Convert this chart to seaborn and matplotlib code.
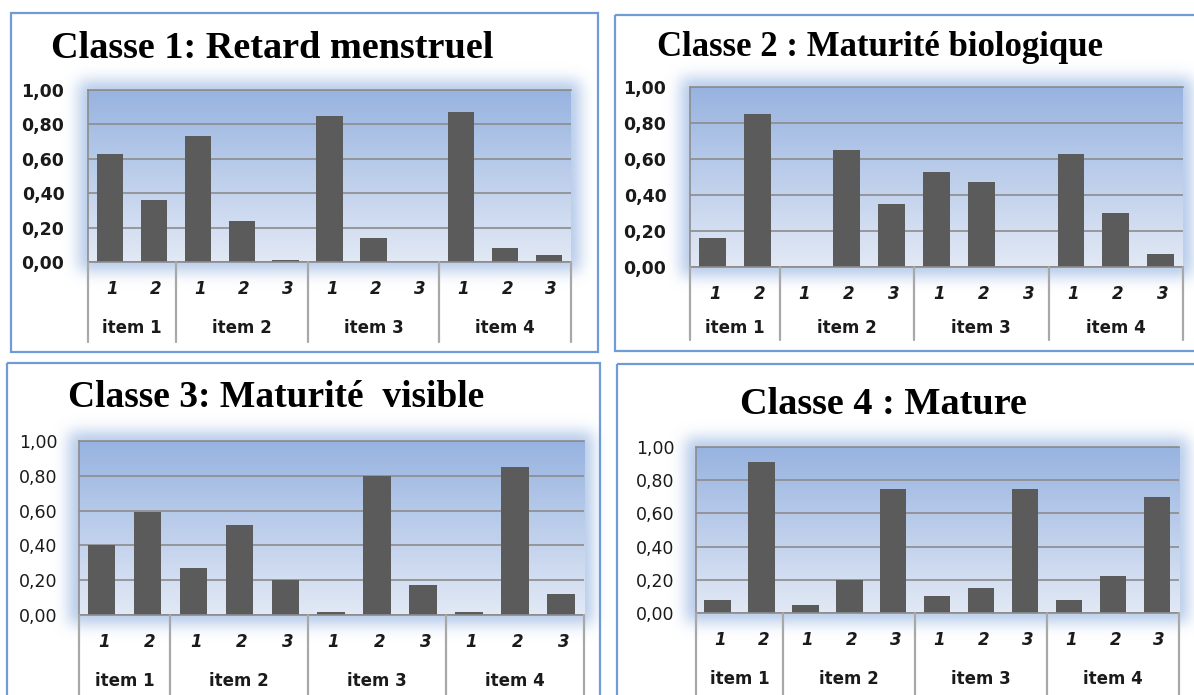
import numpy as np
import pandas as pd
import matplotlib
matplotlib.use("Agg")
import matplotlib.pyplot as plt
import matplotlib.transforms as mtransforms
from matplotlib.patches import Rectangle
import seaborn as sns

# ---- data -------------------------------------------------------------
items = ["item 1", "item 1",
         "item 2", "item 2", "item 2",
         "item 3", "item 3", "item 3",
         "item 4", "item 4", "item 4"]
levels = ["1", "2", "1", "2", "3", "1", "2", "3", "1", "2", "3"]

classe1 = [0.63, 0.36, 0.73, 0.24, 0.01, 0.85, 0.14, 0.00, 0.87, 0.08, 0.04]
classe2 = [0.16, 0.85, 0.00, 0.65, 0.35, 0.53, 0.47, 0.00, 0.63, 0.30, 0.07]
classe3 = [0.40, 0.59, 0.27, 0.52, 0.20, 0.02, 0.80, 0.17, 0.02, 0.85, 0.12]
classe4 = [0.08, 0.91, 0.05, 0.20, 0.75, 0.10, 0.15, 0.75, 0.08, 0.22, 0.70]

titles = ["Classe 1: Retard menstruel",
          "Classe 2 : Maturité biologique",
          "Classe 3: Maturité  visible",
          "Classe 4 : Mature"]

yticks = [0.0, 0.2, 0.4, 0.6, 0.8, 1.0]
ytick_labels = ["0,00", "0,20", "0,40", "0,60", "0,80", "1,00"]

# ---- layout (pixel geometry) -----------------------------------------
W, H = 1194, 695
panels = [
    dict(values=classe1, ax=(88, 90, 571, 262), box=(11, 13, 598, 352),
         title_xy=(272, 48), title_size=27.5, num_y=289, item_y=328, sep_y=342,
         tick_bold=True, pad=17),
    dict(values=classe2, ax=(690, 87, 1183, 267), box=(615, 15, 1215, 351),
         title_xy=(880, 47), title_size=25, num_y=294, item_y=328, sep_y=340,
         tick_bold=True, pad=17),
    dict(values=classe3, ax=(78.5, 441, 584, 615), box=(7, 363, 600, 715),
         title_xy=(276, 398), title_size=27, num_y=642, item_y=681, sep_y=705,
         tick_bold=False, pad=15),
    dict(values=classe4, ax=(695.5, 447, 1179, 613), box=(617, 364, 1215, 715),
         title_xy=(883, 404), title_size=27.5, num_y=640, item_y=679, sep_y=705,
         tick_bold=False, pad=15),
]

BAR = "#5B5B5B"
GRID = "#8C8C8C"
SEP = "#A8A8A8"
BORDER = "#6F9BD6"

sns.set_style("white")
plt.rcParams["font.family"] = ["DejaVu Sans"]

fig = plt.figure(figsize=(W / 100, H / 100), dpi=100)
fig.patch.set_facecolor("white")


def gaussian_blur(a, sigma):
    r = int(3 * sigma)
    k = np.exp(-0.5 * (np.arange(-r, r + 1) / sigma) ** 2)
    k /= k.sum()
    a = np.apply_along_axis(lambda m: np.convolve(m, k, mode="same"), 0, a)
    a = np.apply_along_axis(lambda m: np.convolve(m, k, mode="same"), 1, a)
    return a


# background layer: soft blue glow behind each plot area + frame boxes
bg = fig.add_axes([0, 0, 1, 1])
bg.set_zorder(0)
bg.set_axis_off()
mask = np.zeros((H, W))
for p in panels:
    l, t, r, b = p["ax"]
    mask[int(t) - 9:int(b) + 9, int(l) - 9:int(r) + 9] = 1.0
mask = gaussian_blur(mask, 7.5)
glow = np.zeros((H, W, 4))
glow[..., 0] = 0.69
glow[..., 1] = 0.78
glow[..., 2] = 0.91
glow[..., 3] = np.clip(mask, 0, 1) * 0.95
bg.imshow(glow, extent=(0, W, H, 0), origin="upper", interpolation="bilinear")
for p in panels:
    l, t, r, b = p["box"]
    bg.add_patch(Rectangle((l, t), r - l, b - t, fill=False,
                           edgecolor=BORDER, lw=1.6, clip_on=False))
bg.set_xlim(0, W)
bg.set_ylim(H, 0)

# vertical gradient used as plot-area fill
top_rgb = np.array([0x97, 0xB3, 0xE0]) / 255
bot_rgb = np.array([0xE2, 0xE9, 0xF5]) / 255
frac = np.linspace(0, 1, 256)[:, None]
grad = (top_rgb[None, :] * (1 - frac) + bot_rgb[None, :] * frac)[:, None, :]

slot_names = [f"{it}-{lv}" for it, lv in zip(items, levels)]
item_order = ["item 1", "item 2", "item 3", "item 4"]

for p in panels:
    l, t, r, b = p["ax"]
    ax = fig.add_axes([l / W, 1 - b / H, (r - l) / W, (b - t) / H])
    ax.set_zorder(1)
    ax.patch.set_visible(False)

    df = pd.DataFrame({"slot": slot_names, "value": p["values"]})
    sns.barplot(data=df, x="slot", y="value", order=slot_names, color=BAR,
                saturation=1, width=0.6, linewidth=0, edgecolor=BAR,
                ax=ax, zorder=2)

    ax.imshow(grad, extent=(0, 1, 0, 1), transform=ax.transAxes,
              aspect="auto", zorder=0)
    ax.set_xlim(-0.5, len(slot_names) - 0.5)
    ax.set_ylim(0, 1)

    ax.set_yticks(yticks)
    ax.set_yticklabels(ytick_labels, fontsize=12.5,
                       fontweight="bold" if p["tick_bold"] else "normal",
                       color="#1A1A1A")
    ax.tick_params(axis="y", length=0, pad=p["pad"])
    ax.set_xticks([])
    ax.set_xlabel("")
    ax.set_ylabel("")
    ax.yaxis.grid(True, color=GRID, lw=1.2, zorder=1)
    ax.set_axisbelow(True)
    for side in ["left", "bottom", "top"]:
        ax.spines[side].set_visible(True)
        ax.spines[side].set_color(GRID)
        ax.spines[side].set_linewidth(1.2)
    ax.spines["right"].set_visible(False)

    # category axis drawn below the plot: separators, levels, items
    hpx = b - t
    trans = mtransforms.blended_transform_factory(ax.transData, ax.transAxes)
    bounds = [-0.5]
    for it in item_order:
        bounds.append(bounds[-1] + items.count(it))
    for xb in bounds:
        ax.plot([xb, xb], [0, (b - p["sep_y"]) / hpx], transform=trans,
                color=SEP, lw=1.6, clip_on=False, zorder=3)
    for i, lv in enumerate(levels):
        ax.text(i + 0.05, (b - p["num_y"]) / hpx, lv, transform=trans,
                ha="center", va="center", fontsize=12, fontweight="bold",
                style="italic", color="#1A1A1A")
    for k, it in enumerate(item_order):
        cx = (bounds[k] + bounds[k + 1]) / 2
        ax.text(cx, (b - p["item_y"]) / hpx, it, transform=trans,
                ha="center", va="center", fontsize=12, fontweight="bold",
                color="#1A1A1A")

for p, title in zip(panels, titles):
    x, y = p["title_xy"]
    fig.text(x / W, 1 - y / H, title, ha="center", va="center",
             fontsize=p["title_size"], fontweight="bold",
             family=["Liberation Serif"], color="black", zorder=5)

fig.savefig("out.png", dpi=100)
